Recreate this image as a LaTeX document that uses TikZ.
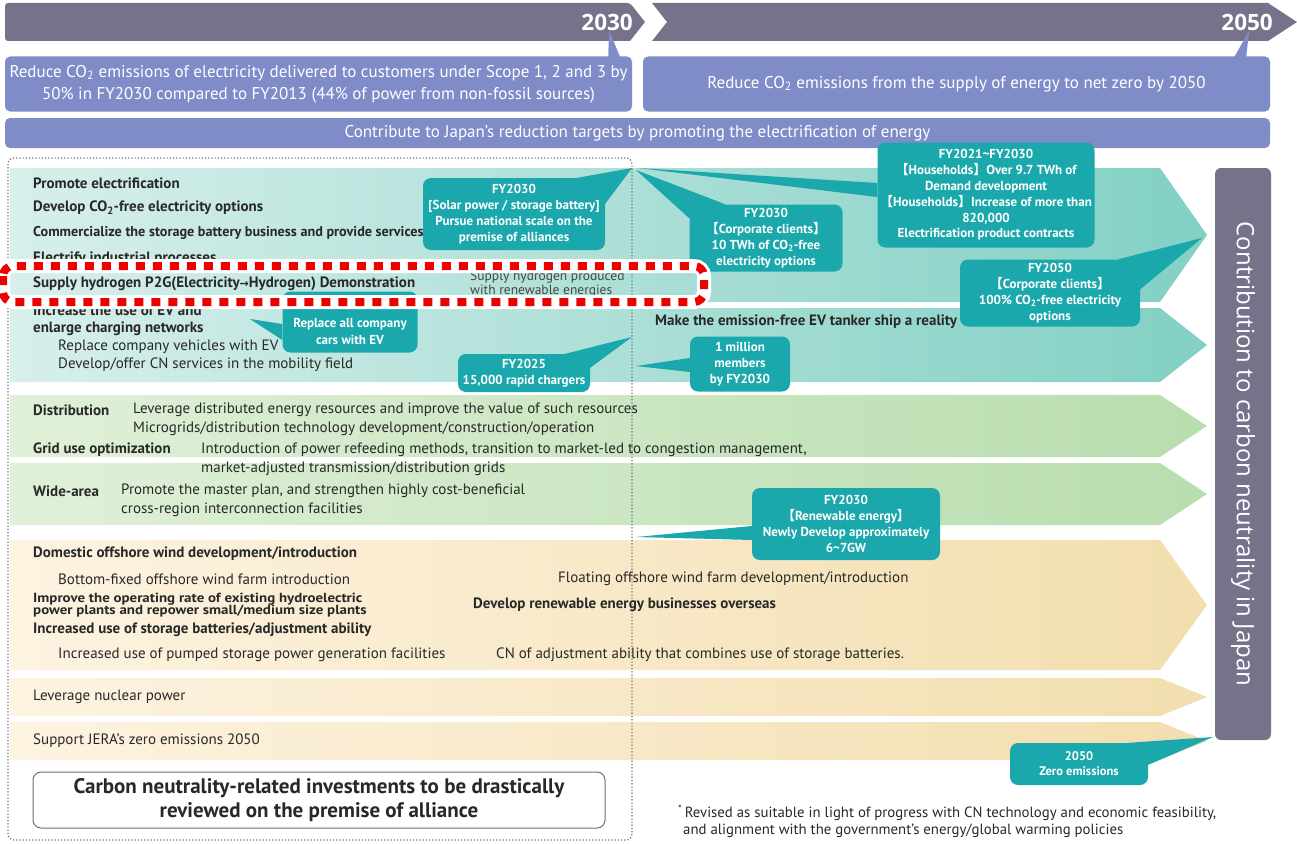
\documentclass[tikz,border=0pt]{standalone}
\usepackage{fontspec}
\setmainfont{PT Sans}
\newfontfamily\widefont{Open Sans}
\newfontfamily\stretchfont{PT Sans}[FakeStretch=1.13]
\newfontfamily\cjkfont{Noto Sans CJK JP}
\newfontfamily\symbolfont{DejaVu Sans}
\usetikzlibrary{calc}

\definecolor{timebar}{RGB}{118,114,138}
\definecolor{goalblue}{RGB}{128,140,200}
\definecolor{calloutteal}{RGB}{26,168,172}
\definecolor{tealL}{RGB}{216,239,235}
\definecolor{tealR}{RGB}{130,208,196}
\definecolor{greenL}{RGB}{224,240,216}
\definecolor{greenR}{RGB}{184,221,174}
\definecolor{tanL}{RGB}{253,243,225}
\definecolor{tanR}{RGB}{242,222,174}
\definecolor{inkdark}{RGB}{40,40,40}
\definecolor{inkgray}{RGB}{70,70,70}
\definecolor{framegray}{RGB}{110,110,120}
\definecolor{alertred}{RGB}{236,0,0}

\newcommand{\openbr}{{\cjkfont 【}}
\newcommand{\closebr}{{\cjkfont 】}}
\newcommand{\cotwo}{CO\textsubscript{2}}
\newcommand{\fsz}[2]{\fontsize{#1}{#2}\selectfont}

\begin{document}
\begin{tikzpicture}[x=1pt,y=-1pt,
  lefttext/.style={anchor=west,inner sep=0pt,text=inkdark,font=\fsz{15}{18}},
  headtext/.style={lefttext,font=\fsz{15}{18}\bfseries},
  goalbox/.style={fill=goalblue,rounded corners=5pt,text=white,align=center,inner sep=0pt,font=\fsz{17}{22}},
  callout/.style={fill=calloutteal,rounded corners=8pt,text=white,align=center,inner sep=0pt,font=\fsz{13}{15.8}\bfseries},
  tail/.style={fill=calloutteal}]
\useasboundingbox (0,0) rectangle (1297,843);

\fill[timebar,rounded corners=3pt] (5,3) -- (630,3) [sharp corners] -- (645,22) -- (630,41) [rounded corners=3pt] -- (5,41) -- cycle;
\fill[timebar] (652,3) -- (1268,3) -- (1297,22) -- (1268,41) -- (652,41) -- (667,22) -- cycle;
\node[anchor=east,inner sep=0pt,text=white,font=\widefont\fsz{22.5}{24}\bfseries] (y2030) at (633,22) {2030};
\node[anchor=east,inner sep=0pt,text=white,font=\widefont\fsz{22.5}{24}\bfseries] (y2050) at (1273,22) {2050};

\node[goalbox,minimum width=627,minimum height=55] (goalA) at (318.5,84) {Reduce \cotwo{} emissions of electricity delivered to customers under Scope 1, 2 and 3 by\\50\% in FY2030 compared to FY2013 (44\% of power from non-fossil sources)};
\node[goalbox,minimum width=627,minimum height=55] (goalB) at (956.5,84) {Reduce \cotwo{} emissions from the supply of energy to net zero by 2050};
\node[goalbox,minimum width=1265,minimum height=30] (goalC) at (637.5,133) {Contribute to Japan's reduction targets by promoting the electrification of energy};
\fill[goalblue] ($(goalA.north east)+(-24,1)$) -- ($(y2030.south)+(2,0)$) -- ($(goalA.north east)+(-12,1)$) -- cycle;
\fill[goalblue] ($(goalB.north east)+(-36,1)$) -- ($(y2050.south)+(2,0)$) -- ($(goalB.north east)+(-24,1)$) -- cycle;

\foreach \ya/\yb/\lc/\rc in {168/302/tealL/tealR,308/382/tealL/tealR,395/457/greenL/greenR,463/525/greenL/greenR,540/670/tanL/tanR,678/716/tanL/tanR,722/760/tanL/tanR}
  \shade[left color=\lc,right color=\rc] (10,\ya) -- (1160,\ya) -- (1207,{(\ya+\yb)/2}) -- (1160,\yb) -- (10,\yb) -- cycle;

\node[fill=timebar,rounded corners=6pt,minimum width=56,minimum height=572] (side) at (1243,454) {};
\node[rotate=-90,text=white,font=\widefont\fsz{24}{26}] (sidetext) at (side.center) {Contribution to carbon neutrality in Japan};

\draw[framegray,dotted,line width=1.2pt,rounded corners=6pt] (8,158) rectangle (632,840);

\node[headtext] (promote) at (33,183) {Promote electrification};
\node[headtext] (develop) at (33,208) {Develop \cotwo-free electricity options};
\node[headtext,font=\fsz{14.2}{18}\bfseries] (commerce) at (33,233) {Commercialize the storage battery business and provide services};
\node[headtext] (industry) at (33,259) {Electrify industrial processes};
\node[headtext] (hydrogen) at (33,284) {Supply hydrogen P2G(Electricity{\symbolfont\fsz{11}{13}→}Hydrogen) Demonstration};
\node[anchor=west,inner sep=0pt,align=left,text=inkgray,font=\fsz{13.5}{14.5}] (renewh2) at (470,284) {Supply hydrogen produced\\with renewable energies};
\node[headtext] (evuse) at (33,310) {Increase the use of EV and};
\node[headtext] (charging) at (33,329) {enlarge charging networks};
\node[lefttext] (company) at (58,347) {Replace company vehicles with EV};
\node[lefttext] (mobility) at (58,365) {Develop/offer CN services in the mobility field};
\node[headtext] (tanker) at (655,322) {Make the emission-free EV tanker ship a reality};

\node[headtext] (distrib) at (33,410) {Distribution};
\node[lefttext] (distribA) at (133,410) {Leverage distributed energy resources and improve the value of such resources};
\node[lefttext] (distribB) at (133,429) {Microgrids/distribution technology development/construction/operation};
\node[headtext] (grid) at (33,450) {Grid use optimization};
\node[lefttext] (gridA) at (201,450) {Introduction of power refeeding methods, transition to market-led to congestion management,};
\node[lefttext] (gridB) at (201,469) {market-adjusted transmission/distribution grids};
\node[headtext] (wide) at (33,491) {Wide-area};
\node[lefttext] (wideA) at (121,491) {Promote the master plan, and strengthen highly cost-beneficial};
\node[lefttext] (wideB) at (121,510) {cross-region interconnection facilities};

\node[headtext] (offshore) at (33,554) {Domestic offshore wind development/introduction};
\node[lefttext] (bottom) at (58,579) {Bottom-fixed offshore wind farm introduction};
\node[lefttext] (floating) at (558,579) {Floating offshore wind farm development/introduction};
\node[anchor=west,inner sep=0pt,align=left,text=inkdark,font=\stretchfont\fsz{13.2}{12.5}\bfseries] (hydro) at (33,605) {Improve the operating rate of existing hydroelectric\\power plants and repower small/medium size plants};
\node[headtext] (overseas) at (473,605) {Develop renewable energy businesses overseas};
\node[headtext] (storage) at (33,630) {Increased use of storage batteries/adjustment ability};
\node[lefttext] (pumped) at (58,655) {Increased use of pumped storage power generation facilities};
\node[lefttext] (adjust) at (496,655) {CN of adjustment ability that combines use of storage batteries.};
\node[lefttext] (nuclear) at (33,697) {Leverage nuclear power};
\node[lefttext] (jera) at (33,741) {Support JERA's zero emissions 2050};

\node[draw=framegray,line width=1pt,rounded corners=8pt,fill=white,minimum width=572,minimum height=56,align=center,text=inkdark,font=\fsz{21}{24}\bfseries] (invest) at (319,800) {Carbon neutrality-related investments to be drastically\\reviewed on the premise of alliance};
\node[anchor=north west,inner sep=0pt,align=left,text=inkdark,font=\fsz{14.8}{17}] (note) at (678,805) {\textsuperscript{*}\,Revised as suitable in light of progress with CN technology and economic feasibility,\\\hspace{5pt}and alignment with the government's energy/global warming policies};

\coordinate (t1) at (632,168);
\coordinate (t2) at (250,319);
\coordinate (t3) at (632,337);
\coordinate (t4) at (636,170);
\coordinate (t5) at (638,168);
\coordinate (t6) at (1202,238);
\coordinate (t7) at (636,366);
\coordinate (t8) at (636,537);
\coordinate (t9) at (1213,737);

\node[callout,minimum width=182,minimum height=72] (solar) at (514,214) {FY2030\\{[}Solar power / storage battery{]}\\Pursue national scale on the\\premise of alliances};
\fill[tail] ($(solar.north east)+(-28,0)$) -- (t1) -- ($(solar.north east)+(0,26)$) -- cycle;
\node[callout,minimum width=135,minimum height=61] (replace) at (350,322) {};
\node[text=white,align=center,inner sep=0pt,font=\fsz{13}{16.5}\bfseries] (replacetext) at (350,331.5) {Replace all company\\cars with EV};
\fill[tail] ($(replace.west)+(0,2)$) -- (t2) -- ($(replace.west)+(0,18)$) -- cycle;
\node[callout,minimum width=132,minimum height=38] (fy2025) at (524,373) {FY2025\\15,000 rapid chargers};
\fill[tail] ($(fy2025.north east)+(-25,0)$) -- (t3) -- ($(fy2025.north east)+(0,14)$) -- cycle;
\node[callout,minimum width=153,minimum height=67] (corp) at (766,238) {FY2030\\\openbr Corporate clients\closebr\\10 TWh of \cotwo-free\\electricity options};
\fill[tail] ($(corp.north west)+(0,14)$) -- (t4) -- ($(corp.north west)+(36,0)$) -- cycle;
\node[callout,minimum width=217,minimum height=105] (house) at (986,195) {FY2021\textasciitilde FY2030\\\openbr Households\closebr Over 9.7 TWh of\\Demand development\\\openbr Households\closebr Increase of more than\\820,000\\Electrification product contracts};
\fill[tail] ($(house.west)+(0,-12)$) -- (t5) -- ($(house.west)+(0,2)$) -- cycle;
\node[callout,minimum width=180,minimum height=67] (fy2050) at (1050,293) {FY2050\\\openbr Corporate clients\closebr\\100\% \cotwo-free electricity\\options};
\fill[tail] ($(fy2050.north east)+(-22,0)$) -- (t6) -- ($(fy2050.north east)+(0,30)$) -- cycle;
\node[callout,minimum width=100,minimum height=55] (million) at (740,364) {1 million\\members\\by FY2030};
\fill[tail] ($(million.west)+(0,-6)$) -- (t7) -- ($(million.west)+(0,8)$) -- cycle;
\node[callout,minimum width=188,minimum height=72] (renew) at (846,524) {FY2030\\\openbr Renewable energy\closebr\\Newly Develop approximately\\6\textasciitilde 7GW};
\fill[tail] ($(renew.west)+(0,2)$) -- (t8) -- ($(renew.west)+(0,16)$) -- cycle;
\node[callout,minimum width=138,minimum height=42,font=\fsz{12.5}{15}\bfseries] (zero) at (1079,764) {2050\\Zero emissions};
\fill[tail] ($(zero.north east)+(-20,0)$) -- (t9) -- ($(zero.north east)+(0,22)$) -- cycle;

\draw[white,line width=14pt,rounded corners=10pt] (3,266) rectangle (704,302);
\draw[alertred,line width=8pt,dash pattern=on 9pt off 8pt,rounded corners=10pt] (3,266) rectangle (704,302);
\end{tikzpicture}
\end{document}
